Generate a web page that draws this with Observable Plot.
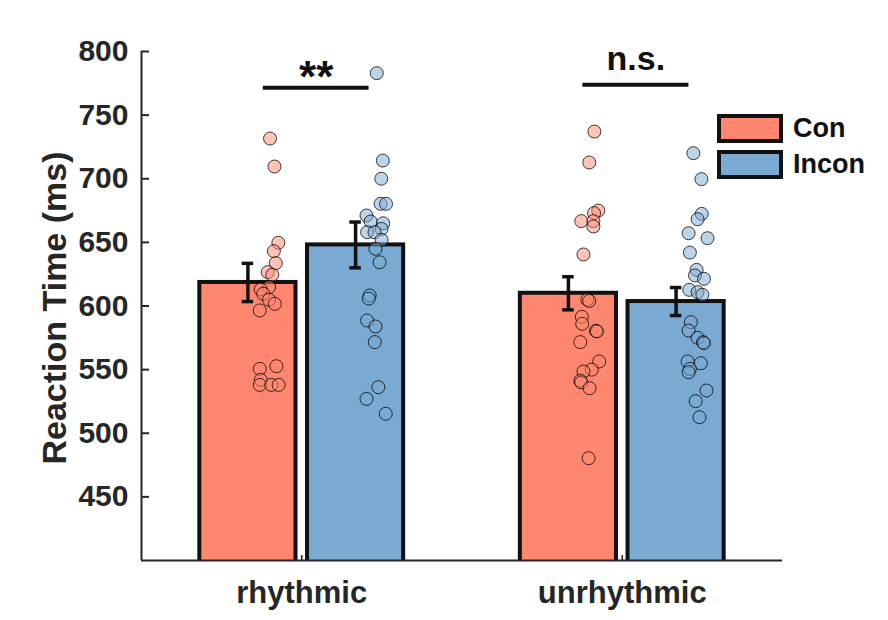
<!DOCTYPE html>
<html>
<head>
<meta charset="utf-8">
<script src="https://cdn.jsdelivr.net/npm/d3@7"></script>
<script src="https://cdn.jsdelivr.net/npm/@observablehq/plot@0.6"></script>
<style>
  body { margin: 0; background: #fff; }
  #wrap { position: relative; width: 888px; height: 620px; font-family: "Liberation Sans", Arial, sans-serif; }
  #legend { position: absolute; left: 717px; top: 113px; }
  .item { display: flex; align-items: center; height: 30px; margin-bottom: 6px; }
  .sw { width: 58px; height: 21px; border: 4px solid #111; }
  .lab { margin-left: 10px; font-size: 27px; font-weight: bold; color: #111; line-height: 30px; }
</style>
</head>
<body>
<div id="wrap"><div id="chart"></div><div id="legend"></div></div>
<script>
// ---- data ----
const conditions = ["rhythmic", "unrhythmic"];
const groups = ["Con", "Incon"];
const colors = ["#FF8770", "#7AA9D2"];
const meanCon = [618.5, 610];
const meanIncon = [648, 603.5];
const seCon = [15, 13];
const seIncon = [18, 11];
const yTicks = [450, 500, 550, 600, 650, 700, 750, 800];
const yDomain = [400, 800];
const yLabel = "Reaction Time (ms)";

// individual participants (RT in ms) and horizontal jitter (category units)
const rhyConRT  = [731.6, 709.6, 649.7, 643.1, 633.7, 626.6, 624.5, 614.8, 613, 609.6, 604.9, 601.7, 596.5, 552.7, 550.6, 542, 538, 538, 538];
const rhyConJit = [0.069, 0.083, 0.095, 0.081, 0.087, 0.062, 0.076, 0.066, 0.040, 0.048, 0.066, 0.084, 0.037, 0.089, 0.037, 0.040, 0.037, 0.073, 0.096];
const rhyIncRT  = [783, 714.3, 700, 680.3, 680.3, 671.1, 666.4, 665, 660.6, 658, 658, 652, 645, 634.4, 608.3, 605.8, 588.6, 583.9, 571.6, 536.2, 527, 515.3];
const rhyIncJit = [0.066, 0.085, 0.080, 0.078, 0.095, 0.034, 0.047, 0.086, 0.081, 0.036, 0.059, 0.081, 0.062, 0.075, 0.044, 0.041, 0.036, 0.062, 0.060, 0.071, 0.034, 0.094];
const unrConRT  = [737.1, 712.8, 675, 673, 666.7, 666.7, 662.5, 640.5, 605, 604, 591.5, 586, 580.5, 580, 571.6, 556.4, 550, 548.5, 541.4, 540, 535.4, 480.4];
const unrConJit = [0.081, 0.065, 0.093, 0.080, 0.040, 0.078, 0.078, 0.047, 0.059, 0.065, 0.042, 0.043, 0.086, 0.089, 0.037, 0.096, 0.073, 0.047, 0.037, 0.040, 0.066, 0.063];
const unrIncRT  = [720.1, 699.7, 672.4, 668.2, 657.2, 653.3, 642, 628.4, 624, 621.4, 612.7, 610.9, 608.8, 587.3, 580.7, 575, 571.6, 570.8, 556.4, 555, 550.6, 548, 533.6, 525.2, 512.6];
const unrIncJit = [0.054, 0.079, 0.080, 0.067, 0.039, 0.098, 0.043, 0.064, 0.059, 0.087, 0.041, 0.067, 0.082, 0.046, 0.039, 0.067, 0.084, 0.087, 0.036, 0.077, 0.043, 0.039, 0.095, 0.061, 0.073];

// significance brackets
const sigLabels = ["**", "n.s."];
const sigX1 = [0.880, 1.877];
const sigX2 = [1.210, 2.208];
const sigY = [771.5, 773.8];
const sigTextY = [779.6, 794.4];

// ---- layout helpers ----
const groupOffset = [-0.168, 0.168];
const barHalf = 0.15;
const capHalf = 0.018;

const bars = [];
conditions.forEach((c, i) => {
  bars.push({cond: c, group: "Con", x: i + 1 + groupOffset[0], mean: meanCon[i], se: seCon[i]});
  bars.push({cond: c, group: "Incon", x: i + 1 + groupOffset[1], mean: meanIncon[i], se: seIncon[i]});
});
const pts = [];
function addPts(rt, jit, ci, gi) {
  rt.forEach((v, k) => pts.push({group: groups[gi], rt: v, x: ci + 1 + groupOffset[gi] + jit[k]}));
}
addPts(rhyConRT, rhyConJit, 0, 0);
addPts(rhyIncRT, rhyIncJit, 0, 1);
addPts(unrConRT, unrConJit, 1, 0);
addPts(unrIncRT, unrIncJit, 1, 1);
const sig = sigLabels.map((l, i) => ({label: l, x1: sigX1[i], x2: sigX2[i], y: sigY[i], ty: sigTextY[i], tx: (sigX1[i] + sigX2[i]) / 2}));

const axisColor = "#262626";
const font = "'Liberation Sans', Arial, sans-serif";

const chart = Plot.plot({
  width: 888,
  height: 620,
  marginTop: 51,
  marginBottom: 60,
  marginLeft: 141,
  marginRight: 106,
  style: {fontFamily: font, background: "#fff"},
  x: {domain: [0.5, 2.5]},
  y: {domain: yDomain},
  color: {domain: groups, range: colors},
  marks: [
    Plot.rectY(bars, {x1: d => d.x - barHalf, x2: d => d.x + barHalf, y: "mean", fill: "group", stroke: "#111", strokeWidth: 4, clip: true}),
    Plot.dot(pts, {x: "x", y: "rt", r: 6.5, fill: "group", fillOpacity: 0.5, stroke: "#000", strokeOpacity: 0.75, strokeWidth: 1}),
    Plot.ruleX(bars, {x: "x", y1: d => d.mean - d.se, y2: d => d.mean + d.se, stroke: "#111", strokeWidth: 3.5}),
    Plot.ruleY(bars, {y: d => d.mean - d.se, x1: d => d.x - capHalf, x2: d => d.x + capHalf, stroke: "#111", strokeWidth: 3.5}),
    Plot.ruleY(bars, {y: d => d.mean + d.se, x1: d => d.x - capHalf, x2: d => d.x + capHalf, stroke: "#111", strokeWidth: 3.5}),
    Plot.ruleY(sig, {y: "y", x1: "x1", x2: "x2", stroke: "#111", strokeWidth: 4}),
    Plot.text(sig, {x: "tx", y: "ty", text: "label", fontSize: d => d.label === "**" ? 44 : 34, fontWeight: "bold", fill: "#111", textAnchor: "middle", lineAnchor: "middle"}),
    Plot.ruleY([yDomain[0]], {stroke: axisColor, strokeWidth: 2}),
    Plot.ruleX([0.5], {y1: yDomain[0], y2: yDomain[1], stroke: axisColor, strokeWidth: 2}),
    Plot.axisY({ticks: yTicks, tickSize: -8, tickPadding: 21, fontSize: 30, fontWeight: "bold", color: axisColor, strokeWidth: 2, label: null}),
    Plot.text([yLabel], {text: d => d, frameAnchor: "left", rotate: -90, dx: -86, dy: 2, fontSize: 34, fontWeight: "bold", fill: axisColor, textAnchor: "middle", lineAnchor: "middle"}),
    Plot.axisX({ticks: [1, 2], tickFormat: d => conditions[d - 1], tickSize: -5, tickPadding: 25, fontSize: 31, fontWeight: "bold", color: axisColor, strokeWidth: 1.5, label: null})
  ]
});
document.getElementById("chart").appendChild(chart);

const lg = document.getElementById("legend");
groups.forEach((g, i) => {
  const it = document.createElement("div");
  it.className = "item";
  it.innerHTML = `<div class="sw" style="background:${colors[i]}"></div><div class="lab">${g}</div>`;
  lg.appendChild(it);
});
</script>
</body>
</html>
